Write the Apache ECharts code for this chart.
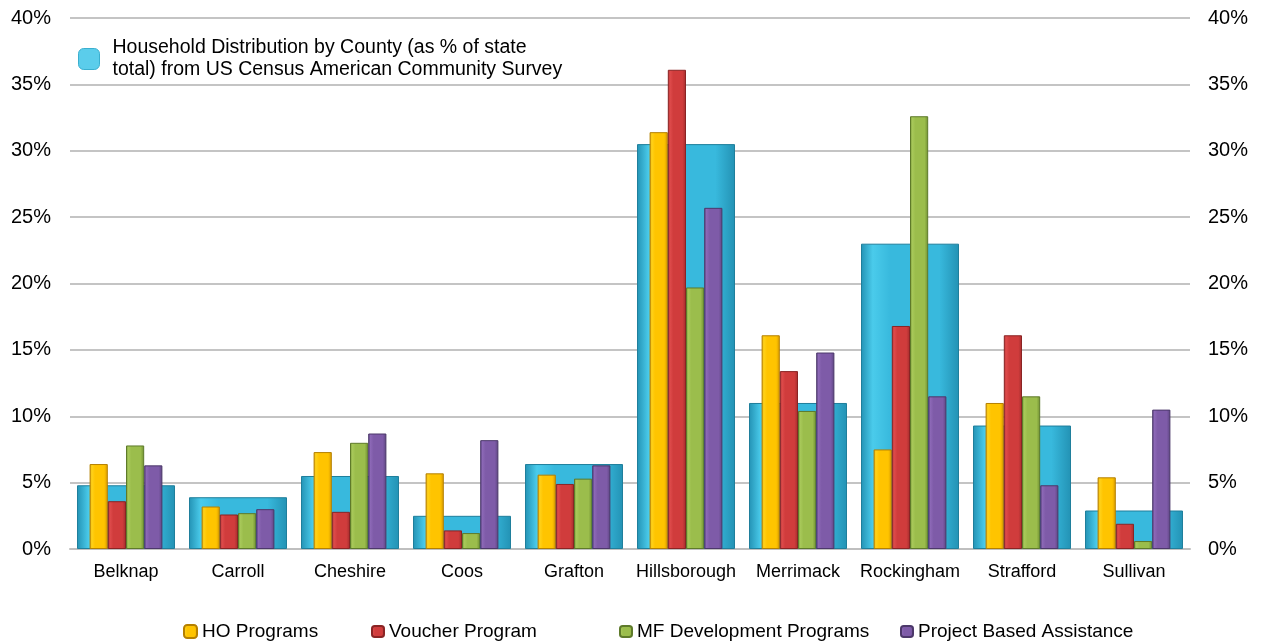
<!DOCTYPE html>
<html>
<head>
<meta charset="utf-8">
<script src="https://cdn.jsdelivr.net/npm/echarts@6/dist/echarts.min.js"></script>
<style>
  html, body { margin: 0; padding: 0; background: #fff; }
  #main { width: 1262px; height: 641px; }
</style>
</head>
<body>
<div id="main"></div>
<script>
// counties on the x axis
var counties = ["Belknap", "Carroll", "Cheshire", "Coos", "Grafton", "Hillsborough", "Merrimack", "Rockingham", "Strafford", "Sullivan"];

// values in % of state total
var householdShare = [4.8, 3.9, 5.5, 2.5, 6.4, 30.5, 11.0, 23.0, 9.3, 2.9];
var hoPrograms = [6.4, 3.2, 7.3, 5.7, 5.6, 31.4, 16.1, 7.5, 11.0, 5.4];
var voucherProgram = [3.6, 2.6, 2.8, 1.4, 4.9, 36.1, 13.4, 16.8, 16.1, 1.9];
var mfDevelopment = [7.8, 2.7, 8.0, 1.2, 5.3, 19.7, 10.4, 32.6, 11.5, 0.6];
var projectBased = [6.3, 3.0, 8.7, 8.2, 6.3, 25.7, 14.8, 11.5, 4.8, 10.5];

var householdName = "Household Distribution by County (as % of state total) from US Census American Community Survey";

// fake the bevelled excel bars with a horizontal gradient
function bevel(edge, mid, light) {
  return new echarts.graphic.LinearGradient(0, 0, 1, 0, [
    { offset: 0, color: edge },
    { offset: 0.12, color: light },
    { offset: 0.3, color: mid },
    { offset: 0.8, color: mid },
    { offset: 1, color: edge }
  ]);
}

function smallBar(name, data, edge, mid, light, border) {
  return {
    name: name,
    type: "bar",
    xAxisIndex: 1,
    data: data,
    barGap: 0,
    barCategoryGap: "35%",
    itemStyle: { color: bevel(edge, mid, light), borderColor: border, borderWidth: 1 }
  };
}

var font = "Liberation Sans, Arial, sans-serif";

var myChart = echarts.init(document.getElementById("main"));

var legendText = { fontFamily: font, fontSize: 19, color: "#000" };

var option = {
  animation: false,
  textStyle: { fontFamily: font },
  grid: { left: 70, right: 72, top: 18, bottom: 92 },
  legend: [
    {
      data: [{ name: householdName, itemStyle: { color: "#5BCDEB", borderColor: "#3AAFCF", borderWidth: 1 } }],
      left: 73,
      top: 32,
      itemWidth: 21,
      itemHeight: 21,
      itemGap: 0,
      formatter: function () {
        return "Household Distribution by County (as % of state\ntotal) from US Census American Community Survey";
      },
      textStyle: { fontFamily: font, fontSize: 19.5, lineHeight: 22, color: "#000", padding: [0, 0, 0, 8] },
      selectedMode: false
    },
    { data: ["HO Programs"], left: 178, top: 617, itemWidth: 13, itemHeight: 13, itemGap: 0, textStyle: legendText, selectedMode: false },
    { data: ["Voucher Program"], left: 366, top: 617, itemWidth: 12, itemHeight: 11, itemGap: 0, textStyle: legendText, selectedMode: false },
    { data: ["MF Development Programs"], left: 614, top: 617, itemWidth: 12, itemHeight: 11, itemGap: 0, textStyle: legendText, selectedMode: false },
    { data: ["Project Based Assistance"], left: 895, top: 617, itemWidth: 12, itemHeight: 11, itemGap: 0, textStyle: legendText, selectedMode: false }
  ],
  xAxis: [
    {
      type: "category",
      data: counties,
      axisTick: { show: false },
      axisLine: { lineStyle: { color: "#BFBFBF", width: 2 } },
      axisLabel: { interval: 0, color: "#000", fontSize: 18, margin: 14, fontFamily: font }
    },
    {
      type: "category",
      data: counties,
      show: false
    }
  ],
  yAxis: [
    {
      type: "value",
      min: 0,
      max: 40,
      interval: 5,
      position: "left",
      axisLine: { show: false },
      axisTick: { show: false },
      splitLine: { lineStyle: { color: "#C4C4C4", width: 2 } },
      axisLabel: { formatter: "{value}%", color: "#000", fontSize: 20, margin: 19, fontFamily: font }
    },
    {
      type: "value",
      min: 0,
      max: 40,
      interval: 5,
      position: "right",
      axisLine: { show: false },
      axisTick: { show: false },
      splitLine: { show: false },
      axisLabel: { formatter: "{value}%", color: "#000", fontSize: 20, margin: 18, fontFamily: font }
    }
  ],
  series: [
    {
      name: householdName,
      type: "bar",
      xAxisIndex: 0,
      data: householdShare,
      barWidth: "87.5%",
      itemStyle: { color: bevel("#2392B4", "#38B9DD", "#4ACBEB"), borderColor: "#1F7F9C", borderWidth: 1 }
    },
    smallBar("HO Programs", hoPrograms, "#D99A00", "#FFC400", "#FFD21A", "#B58000"),
    smallBar("Voucher Program", voucherProgram, "#A32D2D", "#D03C3C", "#DE4B4B", "#8A2424"),
    smallBar("MF Development Programs", mfDevelopment, "#6F8E32", "#9BBD4C", "#A8C95A", "#5E7A2A"),
    smallBar("Project Based Assistance", projectBased, "#5C4480", "#7E5BA8", "#8C68B6", "#4C386A")
  ]
};

myChart.setOption(option);
</script>
</body>
</html>
